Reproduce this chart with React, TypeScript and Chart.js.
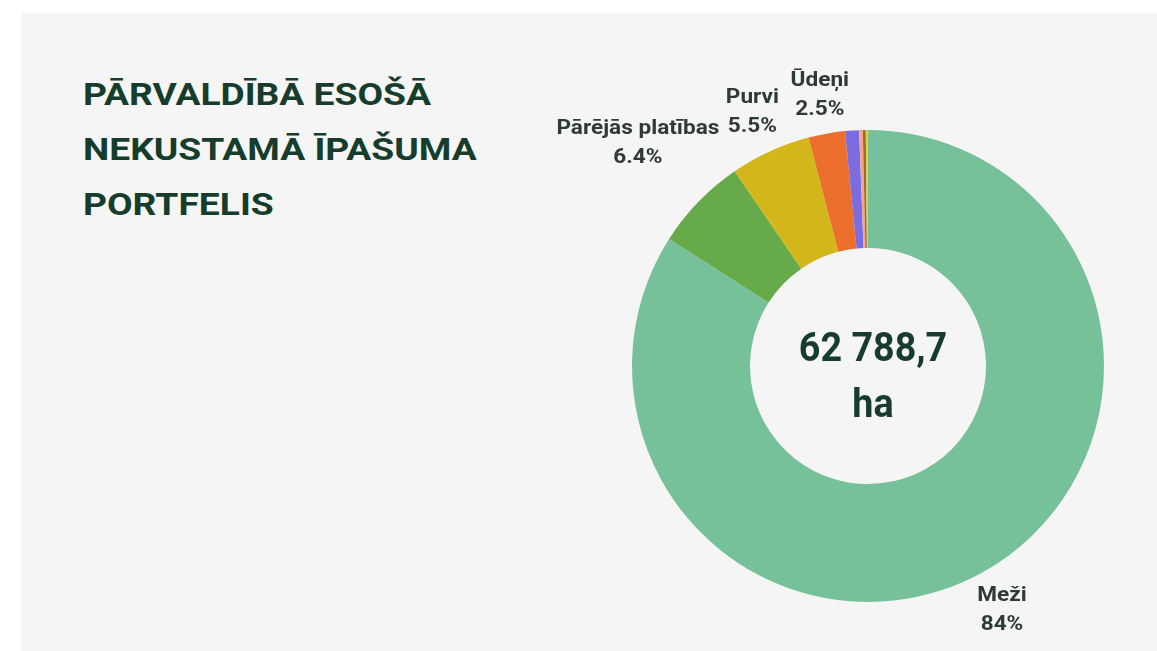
import React, { useEffect, useRef } from "react";
import { Chart, registerables } from "chart.js";

Chart.register(...registerables);

const titleLines = ["PĀRVALDĪBĀ ESOŠĀ", "NEKUSTAMĀ ĪPAŠUMA", "PORTFELIS"];
const categories = [
  "Meži",
  "Pārējās platības",
  "Purvi",
  "Ūdeņi",
  "Zem ēkām",
  "Lauksaimniecības zemes",
  "Ceļi",
  "Krūmāji",
];
const shares = [84, 6.4, 5.5, 2.5, 0.95, 0.25, 0.2, 0.15];
const labelled = [true, true, true, true, false, false, false, false];
const sliceColors = [
  "#77c19a",
  "#67aa4a",
  "#d3b71a",
  "#eb6e2d",
  "#7b6de0",
  "#f3a58b",
  "#9c6a2c",
  "#e6cf3e",
];
const centerLines = ["62 788,7", "ha"];

const TEXT_DARK = "#163d2c";
const LABEL_COLOR = "#2e3b35";

const sliceLabelPlugin = {
  id: "sliceLabels",
  afterDatasetsDraw(chart: any) {
    const ctx = chart.ctx;
    const meta = chart.getDatasetMeta(0);
    ctx.save();
    ctx.font = "bold 20px Roboto";
    ctx.fillStyle = LABEL_COLOR;
    ctx.textAlign = "center";
    ctx.textBaseline = "middle";
    const sx = 1.13;
    const lineH = 29;
    meta.data.forEach((arc: any, i: number) => {
      if (!labelled[i]) return;
      const p = arc.getProps(["x", "y", "startAngle", "endAngle", "outerRadius"], true);
      const mid = (p.startAngle + p.endAngle) / 2;
      const dx = Math.cos(mid);
      const dy = Math.sin(mid);
      const lines = [categories[i], shares[i] + "%"];
      const w = Math.max(...lines.map((l) => ctx.measureText(l).width)) * sx;
      const h = lines.length * lineH;
      const support = (Math.abs(dx) * w) / 2 + (Math.abs(dy) * h) / 2;
      const r = p.outerRadius + 5.5 + support;
      const cx = p.x + dx * r;
      const cy = p.y + dy * r;
      lines.forEach((l, k) => {
        ctx.save();
        ctx.translate(cx, cy - h / 2 + lineH * (k + 0.5));
        ctx.scale(sx, 1);
        ctx.fillText(l, 0, 0);
        ctx.restore();
      });
    });
    ctx.restore();
  },
};

const centerTextPlugin = {
  id: "centerText",
  afterDatasetsDraw(chart: any) {
    const ctx = chart.ctx;
    const arc = chart.getDatasetMeta(0).data[0];
    if (!arc) return;
    const { x, y } = arc.getProps(["x", "y"], true);
    ctx.save();
    ctx.font = "bold 41px Roboto";
    ctx.fillStyle = TEXT_DARK;
    ctx.textAlign = "center";
    ctx.textBaseline = "middle";
    const lh = 56;
    centerLines.forEach((l, k) => {
      ctx.save();
      ctx.translate(x + 5, y - lh / 2 + lh * k + 13);
      ctx.scale(0.92, 1);
      ctx.fillText(l, 0, 0);
      ctx.restore();
    });
    ctx.restore();
  },
};

export default function App() {
  const canvasRef = useRef<HTMLCanvasElement | null>(null);

  useEffect(() => {
    if (!canvasRef.current) return;
    const chart = new Chart(canvasRef.current, {
      type: "doughnut",
      data: {
        labels: categories,
        datasets: [
          {
            data: shares,
            backgroundColor: sliceColors,
            borderWidth: 0,
          },
        ],
      },
      options: {
        responsive: false,
        animation: false,
        cutout: "50%",
        layout: { padding: { left: 112, top: 90, right: 53, bottom: 49 } },
        plugins: {
          legend: { display: false },
          tooltip: { enabled: false },
        },
      },
      plugins: [sliceLabelPlugin, centerTextPlugin],
    });
    return () => chart.destroy();
  }, []);

  return (
    <div
      style={{
        position: "absolute",
        left: 0,
        top: 0,
        width: 1157,
        height: 651,
        background: "#ffffff",
        overflow: "hidden",
      }}
    >
      <div
        style={{
          position: "absolute",
          left: 21,
          top: 13,
          right: 0,
          bottom: 0,
          background: "#f5f5f5",
        }}
      />
      <div
        style={{
          position: "absolute",
          left: 83,
          top: 67,
          fontFamily: "Roboto",
          fontWeight: 700,
          fontSize: 31,
          lineHeight: "55px",
          color: TEXT_DARK,
          whiteSpace: "nowrap",
          transform: "scaleX(1.2)",
          transformOrigin: "left top",
        }}
      >
        {titleLines.map((t) => (
          <div key={t}>{t}</div>
        ))}
      </div>
      <canvas
        ref={canvasRef}
        width={637}
        height={611}
        style={{ position: "absolute", left: 520, top: 40, width: 637, height: 611 }}
      />
    </div>
  );
}
